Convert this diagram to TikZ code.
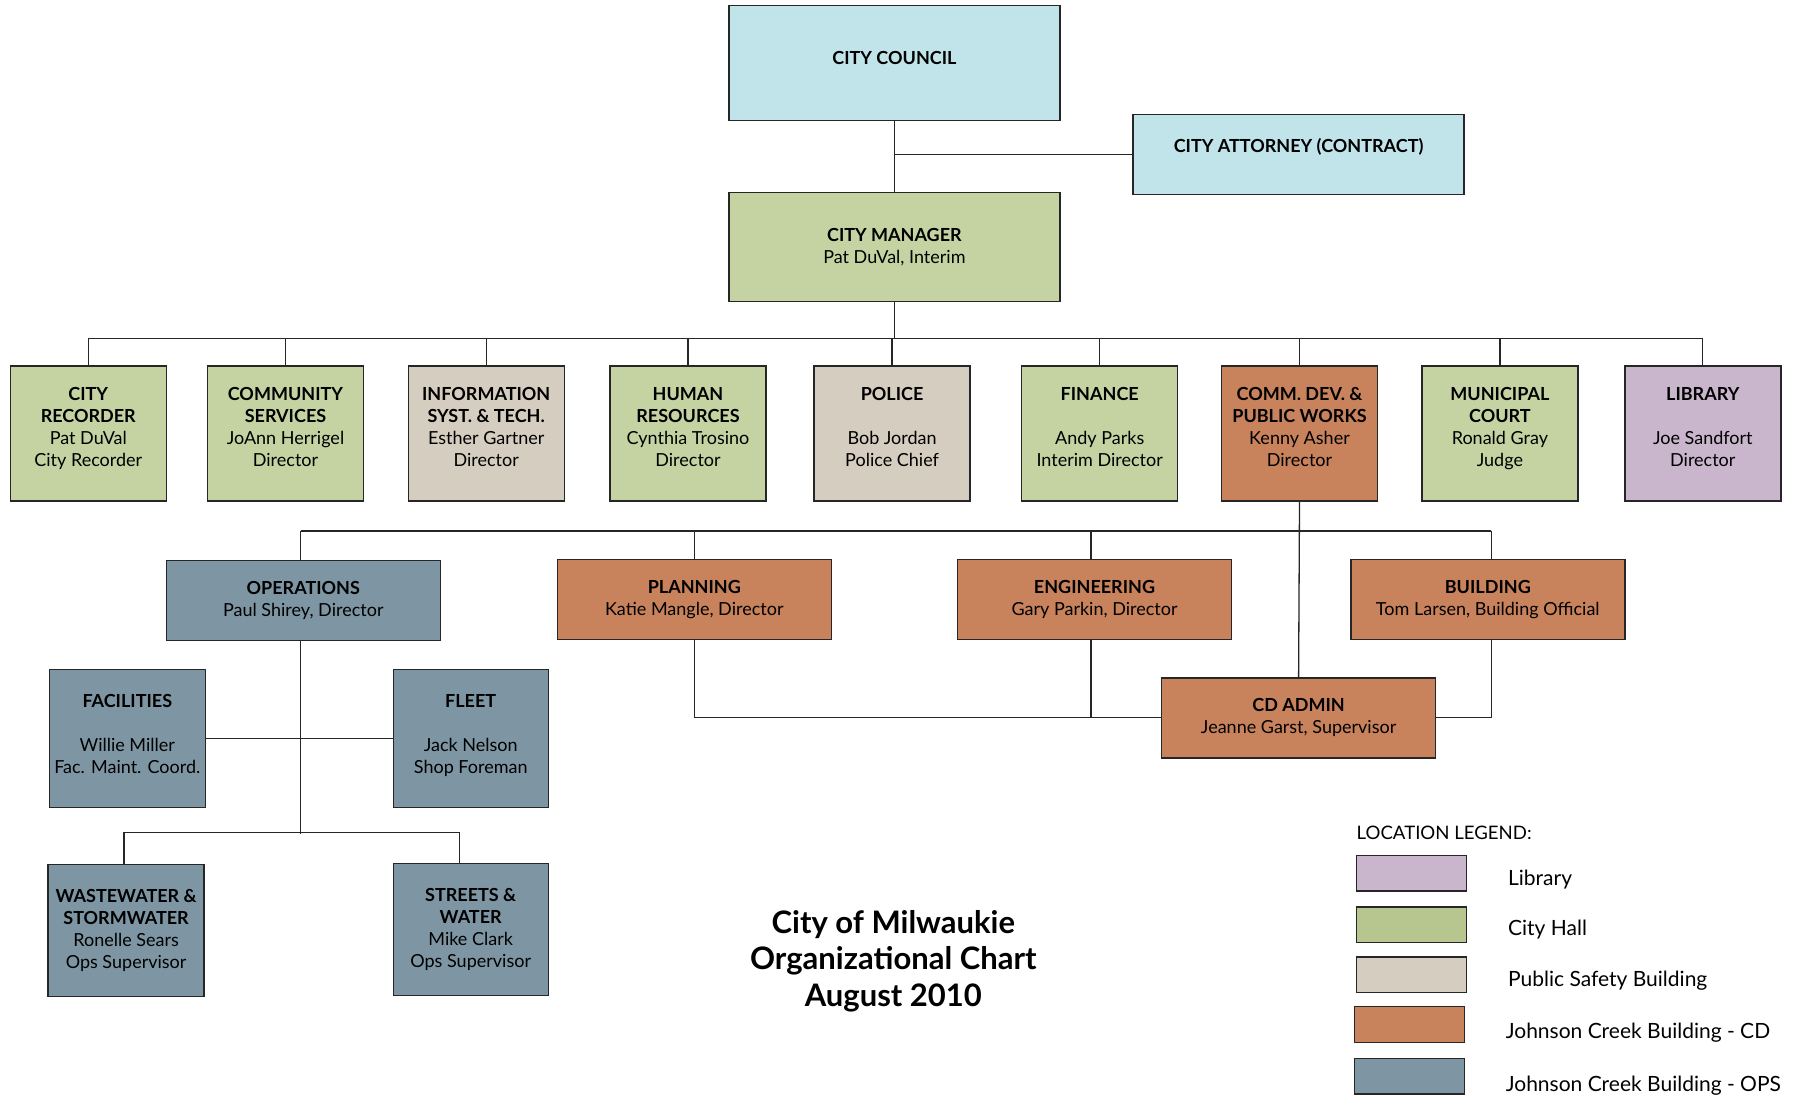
\documentclass[tikz,border=0pt]{standalone}
\usepackage{fontspec}
\setmainfont{Lato}
\usetikzlibrary{calc}
\definecolor{cblue}{HTML}{C0E4EA}
\definecolor{cgreen}{HTML}{C5D3A3}
\definecolor{cbeige}{HTML}{D5CEC0}
\definecolor{corange}{HTML}{C8825C}
\definecolor{cpurple}{HTML}{C9B6CC}
\definecolor{cslate}{HTML}{7E96A4}
\definecolor{clgreen}{HTML}{B6C68E}
\begin{document}
\begin{tikzpicture}[x=1pt,y=-1pt,
  box/.style={draw=black!85, line width=1.4pt, align=center, inner sep=0pt, font=\fontsize{18}{22}\selectfont},
  rbox/.style={box, minimum width=156pt, minimum height=135pt},
  wbox/.style={box, minimum width=274pt, minimum height=80pt},
  sbox/.style={box, minimum width=156pt, minimum height=136pt},
  conn/.style={line width=1.3pt, draw=black!85},
  sw/.style={draw=black!85, line width=1.4pt, minimum width=110pt, minimum height=35.6pt, inner sep=0pt},
  leg/.style={anchor=west, font=\fontsize{21}{24}\selectfont, inner sep=0pt}]
\useasboundingbox[fill=white] (0,0) rectangle (1798,1099);

% top
\node[box, fill=cblue, minimum width=331pt, minimum height=115pt] (council) at (894.4,63) {\textbf{CITY COUNCIL}\\[-12pt]};
\node[box, fill=cblue, minimum width=331pt, minimum height=80pt] (attorney) at (1298.6,154.8) {\textbf{CITY ATTORNEY (CONTRACT)}\\[-4pt]};
\node[box, fill=cgreen, minimum width=331pt, minimum height=109pt] (manager) at (894.4,247.1) {\textbf{CITY MANAGER}\\Pat DuVal, Interim};

% row 1
\node[rbox, fill=cgreen] (rec) at (88.3,433.4) {\textbf{CITY}\\\textbf{RECORDER}\\Pat DuVal\\City Recorder\\[-10pt]};
\node[rbox, fill=cgreen] (com) at (285.5,433.4) {\textbf{COMMUNITY}\\\textbf{SERVICES}\\JoAnn Herrigel\\Director\\[-10pt]};
\node[rbox, fill=cbeige] (ist) at (486.2,433.4) {\textbf{INFORMATION}\\\textbf{SYST. \& TECH.}\\Esther Gartner\\Director\\[-10pt]};
\node[rbox, fill=cgreen] (hr) at (688.0,433.4) {\textbf{HUMAN}\\\textbf{RESOURCES}\\Cynthia Trosino\\Director\\[-10pt]};
\node[rbox, fill=cbeige] (pol) at (892.1,433.4) {\textbf{POLICE}\\[22pt]Bob Jordan\\Police Chief\\[-10pt]};
\node[rbox, fill=cgreen] (fin) at (1099.7,433.4) {\textbf{FINANCE}\\[22pt]Andy Parks\\Interim Director\\[-10pt]};
\node[rbox, fill=corange] (cd) at (1299.5,433.4) {\textbf{COMM. DEV. \&}\\\textbf{PUBLIC WORKS}\\Kenny Asher\\Director\\[-10pt]};
\node[rbox, fill=cgreen] (mc) at (1499.9,433.4) {\textbf{MUNICIPAL}\\\textbf{COURT}\\Ronald Gray\\Judge\\[-10pt]};
\node[rbox, fill=cpurple] (lib) at (1702.8,433.4) {\textbf{LIBRARY}\\[22pt]Joe Sandfort\\Director\\[-10pt]};

% row 2
\node[wbox, fill=cslate] (ops) at (303.3,600.3) {\textbf{OPERATIONS}\\Paul Shirey, Director};
\node[wbox, fill=corange] (plan) at (694.3,599.7) {\textbf{PLANNING}\\Katie Mangle, Director};
\node[wbox, fill=corange] (eng) at (1094.5,599.7) {\textbf{ENGINEERING}\\Gary Parkin, Director};
\node[wbox, fill=corange] (bld) at (1487.8,599.7) {\textbf{BUILDING}\\Tom Larsen, Building Official};
\node[wbox, fill=corange] (cdadmin) at (1298.6,717.8) {\textbf{CD ADMIN}\\Jeanne Garst, Supervisor};

% ops subtree
\node[box, fill=cslate, minimum width=156pt, minimum height=137.6pt] (fac) at (127.3,738.5) {\textbf{FACILITIES}\\[22pt]Willie Miller\\Fac. Maint. Coord.\\[-12pt]};
\node[box, fill=cslate, minimum width=155pt, minimum height=137.6pt] (fleet) at (470.7,738.5) {\textbf{FLEET}\\[22pt]Jack Nelson\\Shop Foreman\\[-12pt]};
\node[sbox, fill=cslate, minimum height=132pt] (ww) at (126.1,930.5) {\textbf{WASTEWATER \&}\\\textbf{STORMWATER}\\Ronelle Sears\\Ops Supervisor};
\node[sbox, fill=cslate, minimum width=155pt, minimum height=132pt] (st) at (470.7,929.4) {\textbf{STREETS \&}\\\textbf{WATER}\\Mike Clark\\Ops Supervisor};

% connectors top
\coordinate (bus1) at (0,338.3);
\coordinate (bus2) at (0,530.9);
\coordinate (bus3) at (0,833.6);
\draw[conn] (council.south) -- (manager.north);
\draw[conn] (council.south |- attorney.west) -- (attorney.west);
\draw[conn] (manager.south) -- (manager.south |- bus1);
\draw[conn] (rec.north |- bus1) -- (lib.north |- bus1);
\foreach \n in {rec,com,ist,hr,pol,fin,cd,mc,lib} \draw[conn] (\n.north |- bus1) -- (\n.north);

% row 2 connectors
\coordinate (opsx) at ([xshift=-2.5pt]ops.north);
\coordinate (engx) at ([xshift=-3.5pt]eng.north);
\coordinate (bldx) at ([xshift=3.5pt]bld.north);
\draw[conn] (cd.south) -- (cdadmin.north);
\draw[conn] (opsx |- bus2) -- (bldx |- bus2);
\draw[conn] (opsx |- bus2) -- (opsx);
\draw[conn] (plan.north |- bus2) -- (plan.north);
\draw[conn] (engx |- bus2) -- (engx);
\draw[conn] (bldx |- bus2) -- (bldx);
\draw[conn] (plan.south) |- (cdadmin.west);
\draw[conn] (engx |- eng.south) -- (engx |- cdadmin.west);
\draw[conn] (bldx |- bld.south) |- (cdadmin.east);

% ops connectors
\draw[conn] (opsx |- ops.south) -- (opsx |- bus3);
\draw[conn] (fac.east) -- (fleet.west);
\draw[conn] ([xshift=-2pt]ww.north) -- ++(0,-31) -| ([xshift=-11pt]st.north);

% title
\node[font=\bfseries\fontsize{31}{36.7}\selectfont, align=center, inner sep=0pt] (title) at (893.3,961) {City of Milwaukie\\Organizational Chart\\August 2010};

% legend
\node[anchor=west, font=\fontsize{18.6}{20}\selectfont, inner sep=0pt] (legt) at (1356.5,832.5) {LOCATION LEGEND:};
\node[sw, fill=cpurple] (s1) at (1411.5,873.2) {};
\node[sw, fill=clgreen] (s2) at (1411.5,924.8) {};
\node[sw, fill=cbeige] (s3) at (1411.5,974.7) {};
\node[sw, fill=corange] (s4) at (1409.2,1024.5) {};
\node[sw, fill=cslate] (s5) at (1409.2,1076.1) {};
\node[leg] (l1) at (1507.9,879.5) {Library};
\node[leg] (l2) at (1507.9,929.9) {City Hall};
\node[leg] (l3) at (1507.9,980.4) {Public Safety Building};
\node[leg] (l4) at (1505.6,1033.1) {Johnson Creek Building - CD};
\node[leg] (l5) at (1505.6,1085.9) {Johnson Creek Building - OPS};
\end{tikzpicture}
\end{document}
